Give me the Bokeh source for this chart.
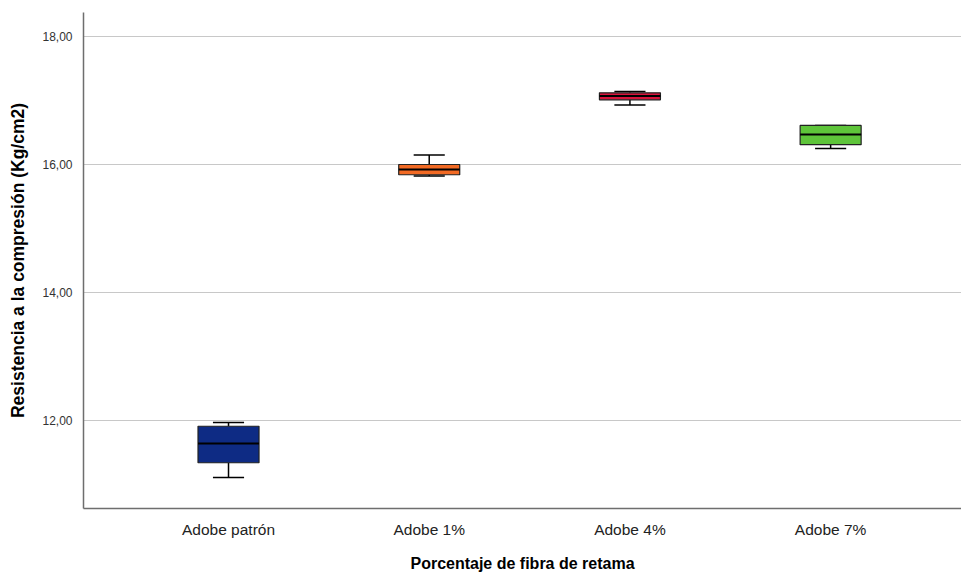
from bokeh.plotting import figure
from bokeh.models import Range1d, FixedTicker, ColumnDataSource
from bokeh.embed import file_html
from bokeh.resources import INLINE

# Compressive strength (Kg/cm2) summary per adobe mix
categories = ["Adobe patrón", "Adobe 1%", "Adobe 4%", "Adobe 7%"]
mins = [11.11, 15.82, 16.93, 16.25]
q1 = [11.34, 15.84, 17.01, 16.31]
medians = [11.64, 15.92, 17.07, 16.47]
q3 = [11.91, 16.00, 17.12, 16.61]
maxs = [11.97, 16.15, 17.14, 16.61]
colors = ["#0e2b84", "#f26a24", "#d8143c", "#5ec43a"]
y_ticks = [12, 14, 16, 18]
y_tick_labels = ["12,00", "14,00", "16,00", "18,00"]

xs = list(range(len(categories)))
box_w = 0.304
cap_w = 0.155

src = ColumnDataSource(dict(
    x=xs, lo=mins, q1=q1, med=medians, q3=q3, hi=maxs, color=colors,
    left=[x - box_w / 2 for x in xs], right=[x + box_w / 2 for x in xs],
    cl=[x - cap_w / 2 for x in xs], cr=[x + cap_w / 2 for x in xs],
))

p = figure(frame_width=878, frame_height=496, output_backend="svg", toolbar_location=None,
           x_range=Range1d(-0.7225, 3.652), y_range=Range1d(10.625, 18.375),
           min_border_left=83, min_border_right=0, min_border_top=12,
           min_border_bottom=66)
p.outline_line_color = None
p.background_fill_color = "white"
p.border_fill_color = "white"

# whiskers and caps
p.segment(x0="x", y0="q3", x1="x", y1="hi", source=src, line_color="black", line_width=1.5)
p.segment(x0="x", y0="lo", x1="x", y1="q1", source=src, line_color="black", line_width=1.5)
p.segment(x0="cl", y0="hi", x1="cr", y1="hi", source=src, line_color="black", line_width=1.5)
p.segment(x0="cl", y0="lo", x1="cr", y1="lo", source=src, line_color="black", line_width=1.5)

# boxes and medians
p.quad(left="left", right="right", bottom="q1", top="q3", source=src,
       fill_color="color", line_color="#222222", line_width=1.2)
p.segment(x0="left", y0="med", x1="right", y1="med", source=src, line_color="black", line_width=2)

# axes
p.xaxis.ticker = FixedTicker(ticks=xs)
p.xaxis.major_label_overrides = {x: c for x, c in zip(xs, categories)}
p.yaxis.ticker = FixedTicker(ticks=y_ticks)
p.yaxis.major_label_overrides = {t: l for t, l in zip(y_ticks, y_tick_labels)}

for ax in (p.xaxis[0], p.yaxis[0]):
    ax.axis_line_color = "#6e6e6e"
    ax.axis_line_width = 1.5
    ax.major_tick_line_color = None
    ax.minor_tick_line_color = None
    ax.major_label_text_font = "Liberation Sans"
    ax.axis_label_text_font = "Liberation Sans"
    ax.axis_label_text_font_style = "bold"
    ax.axis_label_text_color = "black"

p.xaxis.axis_label = "Porcentaje de fibra de retama"
p.xaxis.axis_label_text_font_size = "16px"
p.xaxis.major_label_text_font_size = "15.5px"
p.xaxis.major_label_text_color = "#222222"
p.xaxis.major_label_standoff = 6
p.xaxis.axis_label_standoff = 14

p.yaxis.axis_label = "Resistencia a la compresión (Kg/cm2)"
p.yaxis.axis_label_text_font_size = "17.5px"
p.yaxis.major_label_text_font_size = "12px"
p.yaxis.major_label_text_color = "#333333"
p.yaxis.major_label_standoff = 5
p.yaxis.axis_label_standoff = 11

p.xgrid.grid_line_color = None
p.ygrid.grid_line_color = "#c8c8c8"
p.ygrid.grid_line_width = 1.2

open("out.html", "w").write(file_html(p, INLINE))
